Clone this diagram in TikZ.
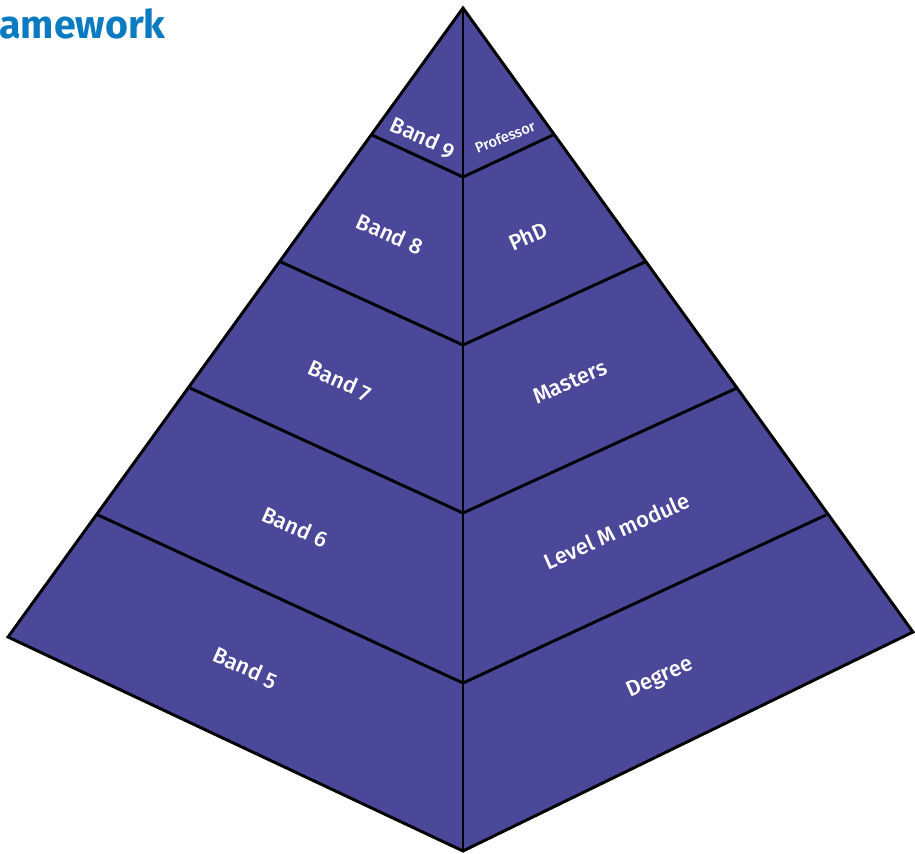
\documentclass[tikz,border=0pt]{standalone}
\usepackage{fontspec}
\setmainfont{Fira Sans}[Numbers=OldStyle]
\newfontfamily\labelfont{Fira Sans Medium}[Numbers=OldStyle]
\definecolor{pyr}{RGB}{75,71,153}
\definecolor{ttl}{RGB}{10,123,193}
\begin{document}
\begin{tikzpicture}[x=0.75pt,y=-0.75pt,
  edge/.style={draw=black,line width=2.2pt,line join=miter},
  lbl/.style={text=white,font=\fontsize{16.5}{19}\labelfont,inner sep=0pt},
  lblsmall/.style={text=white,font=\fontsize{11}{13}\labelfont,inner sep=0pt}]
\useasboundingbox (0,0) rectangle (915,854);
% key points
\coordinate (A) at (463,8);
\coordinate (L) at (8,637);
\coordinate (R) at (913,632);
\coordinate (B) at (463,851);
\coordinate (l9) at (372,135); \coordinate (c9) at (463,177); \coordinate (r9) at (553,135);
\coordinate (l8) at (281,262); \coordinate (c8) at (463,345); \coordinate (r8) at (645,262);
\coordinate (l7) at (190,388); \coordinate (c7) at (463,513); \coordinate (r7) at (737,388);
\coordinate (l6) at (98,515);  \coordinate (c6) at (463,683); \coordinate (r6) at (826,515);
% fill
\fill[pyr] (A) -- (R) -- (B) -- (L) -- cycle;
% band lines
\draw[edge] (l9) -- (c9) -- (r9);
\draw[edge] (l8) -- (c8) -- (r8);
\draw[edge] (l7) -- (c7) -- (r7);
\draw[edge] (l6) -- (c6) -- (r6);
\draw[edge] (A) -- (B);
\draw[edge] (A) -- (R) -- (B) -- (L) -- cycle;
% labels
\node[lbl,rotate=-24] (b9) at (423,138) {Band 9};
\node[lblsmall,rotate=22] (pr) at (505,137) {Professor};
\node[lbl,rotate=-24] (b8) at (390,234) {Band 8};
\node[lbl,rotate=24] (phd) at (528,236) {PhD};
\node[lbl,rotate=-24] (b7) at (340,381) {Band 7};
\node[lbl,rotate=24] (ma) at (570,382) {Masters};
\node[lbl,rotate=-24] (b6) at (295,527) {Band 6};
\node[lbl,rotate=24] (lm) at (617,531) {Level M module};
\node[lbl,rotate=-24] (b5) at (245,668) {Band 5};
\node[lbl,rotate=24] (dg) at (660,678) {Degree};
% title
\node[anchor=west,inner sep=0pt,text=ttl,font=\fontsize{29.5}{33}\selectfont\bfseries] (title) at (-1,24) {amework};
\end{tikzpicture}
\end{document}
